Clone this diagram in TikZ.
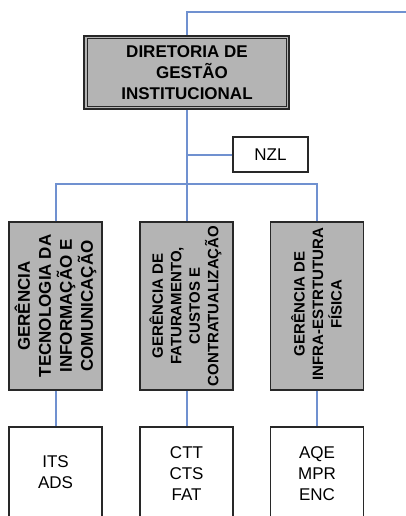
\documentclass[tikz,border=0pt]{standalone}
\usepackage{fontspec}
\setmainfont{Liberation Sans}
\definecolor{connblue}{RGB}{112,145,208}
\definecolor{boxgray}{RGB}{180,180,180}
\definecolor{boxline}{RGB}{40,40,40}
\begin{document}
\begin{tikzpicture}[x=1pt,y=-1pt,
  conn/.style={draw=connblue,line width=2pt},
  dirbox/.style={draw=boxline,fill=boxgray,line width=2.2pt,minimum width=205pt,minimum height=73pt,inner sep=0pt},
  gbox/.style={draw=boxline,fill=boxgray,line width=1.4pt,minimum width=93pt,minimum height=168pt,inner sep=0pt},
  wbox/.style={draw=boxline,fill=white,line width=1.4pt,minimum width=93pt,minimum height=133pt,inner sep=0pt},
  nzlbox/.style={draw=boxline,fill=white,line width=1.4pt,minimum width=75pt,minimum height=35pt,inner sep=0pt,font=\fontsize{17}{21}\selectfont},
  bigtxt/.style={font=\fontsize{17}{21}\selectfont\bfseries,align=center,inner sep=0pt},
  midtxt/.style={font=\fontsize{15}{18.5}\selectfont\bfseries,align=center,inner sep=0pt},
  rottxt/.style={rotate=90},
  lowtxt/.style={font=\fontsize{17}{21}\selectfont,align=center,inner sep=0pt}
]
\clip (0,0) rectangle (406,516);
\fill[white] (0,0) rectangle (406,516);

% director
\node[dirbox] (dir) at (186.5,72.5) {};
\draw[boxline,line width=0.8pt] ([shift={(4,4)}]dir.north west) rectangle ([shift={(-4,-4)}]dir.south east);
\node[bigtxt] (dirtxt) at (187,72.5) {DIRETORIA DE\\\hspace*{10pt}GESTÃO\\INSTITUCIONAL};

% NZL
\node[nzlbox] (nzl) at (270.5,154.5) {NZL};

% gerencias
\node[gbox] (g1) at (55.5,306) {};
\node[gbox] (g2) at (186.5,306) {};
\node[gbox] (g3) at (317,306) {};
\node[bigtxt,rottxt] (t1) at (55.5,306) {GERÊNCIA\\TECNOLOGIA DA\\INFORMAÇÃO E\\COMUNICAÇÃO};
\node[midtxt,rottxt] (t2) at (185.5,306) {GERÊNCIA DE\\FATURAMENTO,\\CUSTOS E\\CONTRATUALIZAÇÃO};
\node[midtxt,rottxt] (t3) at (316.5,304) {GERÊNCIA DE\\INFRA-ESTRTUTURA\\FÍSICA};

% bottom boxes
\node[wbox] (b1) at (55.5,493.5) {};
\node[wbox] (b2) at (186.5,493.5) {};
\node[wbox] (b3) at (317,493.5) {};
\node[lowtxt] (l1) at (55.5,472.5) {ITS\\ADS};
\node[lowtxt] (l2) at (186.5,473.5) {CTT\\CTS\\FAT};
\node[lowtxt] (l3) at (317,473.5) {AQE\\MPR\\ENC};

% connectors
\coordinate (topright) at (406,12);
\coordinate (bus) at (186.5,184);
\draw[conn] (dir.north) -- (dir.north |- topright) -- (topright);
\draw[conn] (dir.south) -- (g2.north);
\draw[conn] (nzl.west) -- (nzl.west -| dir.south);
\draw[conn] (g1.north) -- (g1.north |- bus) -- (g3.north |- bus) -- (g3.north);
\draw[conn] (g1.south) -- (b1.north);
\draw[conn] (g2.south) -- (b2.north);
\draw[conn] (g3.south) -- (b3.north);
\end{tikzpicture}
\end{document}
